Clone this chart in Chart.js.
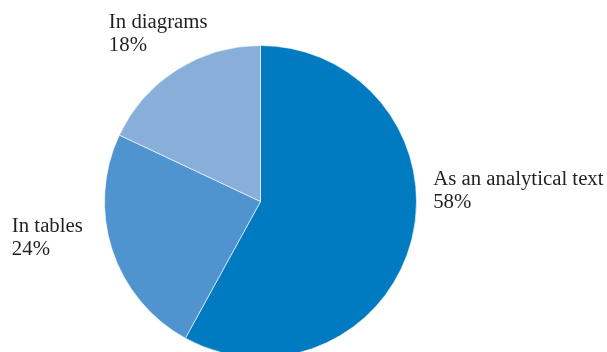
<!DOCTYPE html>
<html>
<head>
<meta charset="utf-8">
<script src="https://cdn.jsdelivr.net/npm/chart.js@4/dist/chart.umd.min.js"></script>
<style>
  html, body { margin: 0; padding: 0; background: #ffffff; overflow: hidden; }
  #wrap { width: 607px; height: 352px; overflow: hidden; position: relative; }
  canvas { display: block; }
</style>
</head>
<body>
<div id="wrap"><canvas id="c" width="607" height="358"></canvas></div>
<script>
const categories = ["As an analytical text", "In tables", "In diagrams"];
const values = [58, 24, 18];
const sliceColors = ["#007bc2", "#4f94ce", "#87afda"];
// label anchors relative to pie centre, in units of the radius
const labelOffsets = [[1.107, -0.103], [-1.594, 0.197], [-0.972, -1.109]];

const labelPlugin = {
  id: 'pieLabels',
  afterDatasetsDraw(chart) {
    const ctx = chart.ctx;
    const meta = chart.getDatasetMeta(0);
    ctx.save();
    ctx.font = '20.8px "Liberation Serif", "Times New Roman", serif';
    ctx.fillStyle = '#231f20';
    ctx.textAlign = 'left';
    ctx.textBaseline = 'alphabetic';
    meta.data.forEach((arc, i) => {
      const r = arc.outerRadius;
      const x = arc.x + labelOffsets[i][0] * r;
      const y = arc.y + labelOffsets[i][1] * r;
      ctx.fillText(categories[i], x, y);
      ctx.fillText(values[i] + '%', x, y + 22.5);
    });
    ctx.restore();
  }
};

new Chart(document.getElementById('c'), {
  type: 'pie',
  data: {
    labels: categories,
    datasets: [{
      data: values,
      backgroundColor: sliceColors,
      borderColor: 'rgba(255,255,255,0.6)',
      borderWidth: 1
    }]
  },
  options: {
    responsive: false,
    animation: false,
    devicePixelRatio: 1,
    layout: { padding: { left: 104, right: 190, top: 45, bottom: 0 } },
    plugins: {
      legend: { display: false },
      tooltip: { enabled: false }
    }
  },
  plugins: [labelPlugin]
});
</script>
</body>
</html>
